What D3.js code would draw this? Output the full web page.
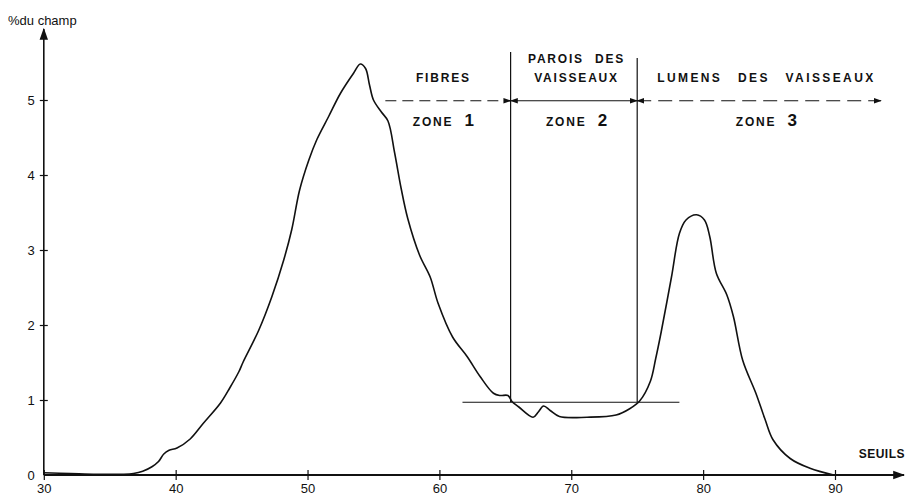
<!DOCTYPE html>
<html>
<head>
<meta charset="utf-8">
<script src="https://cdn.jsdelivr.net/npm/d3@7"></script>
<style>
  body { margin: 0; background: #fff; }
  svg text { font-family: "Liberation Sans", Arial, sans-serif; fill: #111; }
  .zone { font-weight: bold; font-size: 12px; letter-spacing: 1.8px; word-spacing: 6px; }
</style>
</head>
<body>
<script>
// threshold (seuil) values and % of field
var seuils = [30, 32, 34, 36, 36.8, 37.5, 38.2, 38.7, 39.1, 39.5, 40.1, 41.1, 42.1, 43.4, 44.1, 44.8, 45.1,
    46.3, 47.3, 48.2, 48.8, 49.4, 50.1, 50.7, 51.6, 52.5, 53.5, 54.0, 54.4, 54.7, 55.0, 55.6, 56.1,
    56.6, 57.1, 57.6, 58.5, 59.3, 59.9, 61.0, 62.1, 63.1, 64.1, 64.6, 65.2, 65.5, 66.0, 67.1, 67.5,
    67.9, 68.4, 69.1, 71.2, 73.4, 74.4, 75.2, 76.0, 76.4, 76.8, 77.6, 78.2, 78.7, 79.5, 80.1, 80.5,
    81.0, 81.8, 82.3, 83.0, 84.0, 84.7, 85.3, 86.6, 88.1, 89.9];
var pctChamp = [0.03, 0.02, 0.01, 0.01, 0.02, 0.05, 0.11, 0.18, 0.28, 0.33, 0.36, 0.48, 0.69, 0.96, 1.16, 1.38, 1.5,
    1.93, 2.38, 2.87, 3.27, 3.80, 4.20, 4.47, 4.78, 5.09, 5.36, 5.48, 5.42, 5.2, 5.0, 4.84, 4.72,
    4.3, 3.82, 3.42, 2.93, 2.64, 2.29, 1.84, 1.58, 1.31, 1.09, 1.06, 1.06, 0.98, 0.91, 0.77, 0.84,
    0.92, 0.86, 0.78, 0.77, 0.80, 0.88, 0.99, 1.25, 1.55, 1.89, 2.64, 3.22, 3.40, 3.47, 3.40, 3.18,
    2.69, 2.40, 2.11, 1.53, 1.09, 0.74, 0.47, 0.22, 0.09, 0.0];

var xTicks = [30, 40, 50, 60, 70, 80, 90];
var yTicks = [0, 1, 2, 3, 4, 5];

// zone limits and the reference level
var zoneEdges = [65.4, 75.0];
var refLevel = 0.97, refFrom = 61.75, refTo = 78.2;
var zoneTitles = [["FIBRES"], ["PAROIS DES", "VAISSEAUX"], ["LUMENS DES VAISSEAUX"]];
var zoneNames = ["ZONE", "ZONE", "ZONE"], zoneNums = ["1", "2", "3"];

var w = 908, h = 498;

var svg = d3.select("body").append("svg")
    .attr("width", w)
    .attr("height", h);

var x = d3.scaleLinear().domain([30, 90]).range([43.8, 835]);
var y = d3.scaleLinear().domain([0, 5]).range([475, 100]);

var defs = svg.append("defs");
function marker(id, size) {
    defs.append("marker")
        .attr("id", id)
        .attr("viewBox", "0 0 10 10")
        .attr("refX", 9).attr("refY", 5)
        .attr("markerUnits", "userSpaceOnUse")
        .attr("markerWidth", size).attr("markerHeight", size)
        .attr("orient", "auto-start-reverse")
        .append("path")
        .attr("d", "M0,1.5 L10,5 L0,8.5 Z")
        .attr("fill", "#111");
}
marker("arrowBig", 12);
marker("arrowSmall", 8);

// axes lines with arrows
svg.append("line")
    .attr("x1", x(30)).attr("x2", 904)
    .attr("y1", y(0)).attr("y2", y(0))
    .attr("stroke", "#111").attr("stroke-width", 1.8)
    .attr("marker-end", "url(#arrowBig)");
svg.append("line")
    .attr("x1", x(30)).attr("x2", x(30))
    .attr("y1", y(0)).attr("y2", 29)
    .attr("stroke", "#111").attr("stroke-width", 1.6)
    .attr("marker-end", "url(#arrowBig)");

var xAxis = svg.append("g")
    .attr("transform", "translate(0," + y(0) + ")")
    .call(d3.axisBottom(x).tickValues(xTicks).tickSize(5).tickPadding(4).tickFormat(d3.format("d")));
xAxis.select(".domain").remove();
xAxis.selectAll(".tick line").attr("y1", -5).attr("stroke", "#111").attr("stroke-width", 1.2);
xAxis.selectAll(".tick text")
    .style("font-family", "'Liberation Sans', Arial, sans-serif")
    .style("font-size", "13px").attr("fill", "#111");

var yAxis = svg.append("g")
    .attr("transform", "translate(" + x(30) + ",0)")
    .call(d3.axisLeft(y).tickValues(yTicks).tickSize(4).tickPadding(5).tickFormat(d3.format("d")));
yAxis.select(".domain").remove();
yAxis.selectAll(".tick line").attr("x2", 4).attr("x1", -4).attr("stroke", "#111").attr("stroke-width", 1.2);
yAxis.selectAll(".tick").filter(function(d) { return d === 0; }).select("line").remove();
yAxis.selectAll(".tick text")
    .style("font-family", "'Liberation Sans', Arial, sans-serif")
    .style("font-size", "13px").attr("fill", "#111");

// axis titles
svg.append("text").attr("x", 8).attr("y", 25)
    .style("font-size", "13px").text("%du champ");
svg.append("text").attr("x", 905).attr("y", 458).attr("text-anchor", "end")
    .style("font-size", "12px").style("font-weight", "bold").style("letter-spacing", "0.5px")
    .text("SEUILS");

// reference level and zone limits
svg.append("line")
    .attr("x1", x(refFrom)).attr("x2", x(refTo))
    .attr("y1", y(refLevel)).attr("y2", y(refLevel))
    .attr("stroke", "#111").attr("stroke-width", 1.2);
var edgeTops = [5.64, 5.56];
zoneEdges.forEach(function(e, i) {
    svg.append("line")
        .attr("x1", x(e)).attr("x2", x(e))
        .attr("y1", y(refLevel)).attr("y2", y(edgeTops[i]))
        .attr("stroke", "#111").attr("stroke-width", 1.2);
});

// zone arrows
var arrowY = y(4.99);
svg.append("line")
    .attr("x1", x(55.9)).attr("x2", x(zoneEdges[0]))
    .attr("y1", arrowY).attr("y2", arrowY)
    .attr("stroke", "#111").attr("stroke-width", 1.1).attr("stroke-dasharray", "11,6")
    .attr("marker-end", "url(#arrowSmall)");
svg.append("line")
    .attr("x1", x(zoneEdges[0])).attr("x2", x(zoneEdges[1]))
    .attr("y1", arrowY).attr("y2", arrowY)
    .attr("stroke", "#111").attr("stroke-width", 1.1)
    .attr("marker-start", "url(#arrowSmall)").attr("marker-end", "url(#arrowSmall)");
svg.append("line")
    .attr("x1", x(zoneEdges[1])).attr("x2", 881)
    .attr("y1", arrowY).attr("y2", arrowY)
    .attr("stroke", "#111").attr("stroke-width", 1.1).attr("stroke-dasharray", "14,7")
    .attr("marker-start", "url(#arrowSmall)").attr("marker-end", "url(#arrowSmall)");

// zone labels
var zoneCenters = [60.3, 70.4, 84.8];
zoneTitles.forEach(function(lines, i) {
    lines.forEach(function(t, j) {
        var yy = lines.length === 2 ? (j === 0 ? 62.5 : 82) : 82;
        svg.append("text").attr("class", "zone")
            .attr("x", x(zoneCenters[i])).attr("y", yy)
            .attr("text-anchor", "middle")
            .style("letter-spacing", i === 2 ? "2.4px" : null)
            .style("word-spacing", i === 2 ? "10px" : null)
            .text(t);
    });
    var zt = svg.append("text").attr("class", "zone")
        .attr("x", x(zoneCenters[i])).attr("y", 126)
        .attr("text-anchor", "middle");
    zt.append("tspan").text(zoneNames[i] + " ");
    zt.append("tspan").style("font-size", "17px").style("letter-spacing", "0").text(zoneNums[i]);
});

// the curve
var data = seuils.map(function(s, i) { return [s, pctChamp[i]]; });
var line = d3.line()
    .x(function(d) { return x(d[0]); })
    .y(function(d) { return y(d[1]); })
    .curve(d3.curveCatmullRom.alpha(0.5));
svg.append("path")
    .datum(data)
    .attr("d", line)
    .attr("fill", "none")
    .attr("stroke", "#111")
    .attr("stroke-width", 1.6);
</script>
</body>
</html>
